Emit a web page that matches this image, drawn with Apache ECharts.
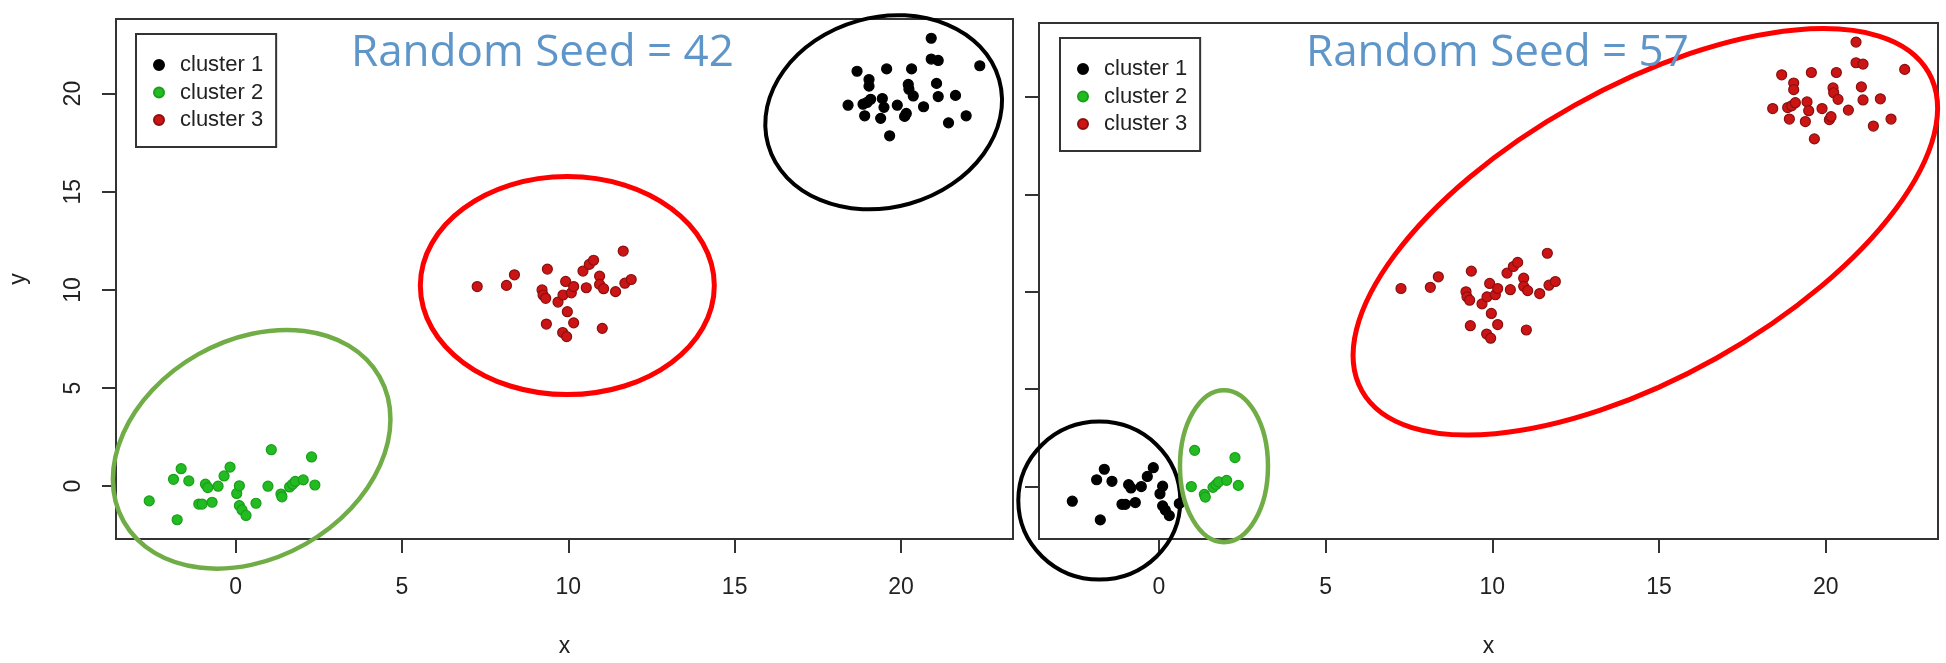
<!DOCTYPE html>
<html>
<head>
<meta charset="utf-8">
<title>k-means: random seed 42 vs 57</title>
<script src="https://cdn.jsdelivr.net/npm/echarts@6.0.0/dist/echarts.min.js"></script>
<style>
html, body { margin: 0; padding: 0; background: #fff; }
#main { width: 1946px; height: 663px; }
</style>
</head>
<body>
<div id="main"></div>
<script>
// same points in both plots, only the labels change between the two runs
// lower-left blob, x below ~1
var groupA = [
    [-2.60, -0.75], [-1.87, 0.35], [-1.64, 0.89], [-1.41, 0.27], [-1.76, -1.71],
    [-1.11, -0.91], [-1.01, -0.91], [-0.91, 0.10], [-0.84, -0.07], [-0.71, -0.82],
    [-0.53, 0.00], [-0.35, 0.52], [-0.17, 0.97], [0.03, -0.37], [0.11, 0.02],
    [0.11, -0.99], [0.19, -1.21], [0.31, -1.49], [0.61, -0.87]
];
// lower-left blob, right hand part
var groupB = [
    [0.97, 0.00], [1.07, 1.86], [1.36, -0.40], [1.39, -0.54], [1.62, -0.04],
    [1.71, 0.10], [1.79, 0.24], [2.03, 0.32], [2.28, 1.49], [2.38, 0.06]
];
// middle blob
var groupC = [
    [7.26, 10.17], [8.14, 10.23], [8.38, 10.77], [9.37, 11.06], [9.21, 10.00],
    [9.24, 9.74], [9.32, 9.57], [9.34, 8.26], [9.69, 9.38], [9.84, 9.74],
    [9.92, 10.43], [9.97, 8.89], [10.09, 9.85], [10.16, 10.17], [9.83, 7.83],
    [9.95, 7.62], [10.16, 8.32], [10.44, 10.96], [10.54, 10.11], [10.63, 11.30],
    [10.76, 11.51], [10.94, 10.70], [10.94, 10.28], [11.06, 10.06], [11.02, 8.04],
    [11.42, 9.91], [11.65, 11.98], [11.70, 10.34], [11.89, 10.53]
];
// upper-right blob
var groupD = [
    [18.41, 19.41], [18.68, 21.14], [18.91, 18.87], [18.86, 19.46], [18.98, 19.55],
    [19.09, 19.71], [19.04, 20.72], [19.04, 20.38], [19.39, 18.74], [19.44, 19.75],
    [19.49, 19.30], [19.57, 21.26], [19.66, 17.85], [19.89, 19.41], [20.11, 18.84],
    [20.16, 18.99], [20.22, 20.47], [20.24, 20.22], [20.37, 19.88], [20.32, 21.26],
    [20.68, 19.33], [20.91, 22.82], [20.91, 21.76], [21.12, 21.69], [21.07, 20.52],
    [21.12, 19.85], [21.43, 18.51], [21.64, 19.91], [21.96, 18.87], [22.37, 21.42]
];

var clusterNames = ['cluster 1', 'cluster 2', 'cluster 3'];
var tickValues = [0, 5, 10, 15, 20];
var titles = ['Random Seed = 42', 'Random Seed = 57'];

// cluster membership per run
var seed42 = [groupD, groupA.concat(groupB), groupC];
var seed57 = [groupA, groupB, groupC.concat(groupD)];

// hand drawn rings, centre in data units, radii in px
var ringsLeft = [
    {at: [0.48, 1.88], rx: 147, ry: 109, tilt: 29.5, color: '#70ad47', width: 4.5},
    {at: [9.97, 10.22], rx: 147, ry: 109, tilt: 0, color: '#ff0000', width: 5},
    {at: [19.48, 19.05], rx: 120, ry: 95, tilt: 15.7, color: '#000000', width: 4}
];
var ringsRight = [
    {at: [-1.79, -0.72], rx: 81, ry: 79, tilt: 0, color: '#000000', width: 4},
    {at: [1.95, 1.05], rx: 44, ry: 76, tilt: 0, color: '#70ad47', width: 4.5},
    {at: [14.59, 13.08], rx: 325, ry: 145, tilt: 29.3, color: '#ff0000', width: 5}
];

var font = 'Liberation Sans';
var ink = '#222';
var colors = ['#000000', '#22bb22', '#cc1414'];
var borders = ['#000000', '#199f19', '#8a1010'];

// axis range like R: data range plus 4% each side
var all = groupA.concat(groupB, groupC, groupD);
var xs = all.map(function (p) { return p[0]; });
var ys = all.map(function (p) { return p[1]; });
var xMin = Math.min.apply(null, xs), xMax = Math.max.apply(null, xs);
var yMin = Math.min.apply(null, ys), yMax = Math.max.apply(null, ys);
var xPad = (xMax - xMin) * 0.04, yPad = (yMax - yMin) * 0.04;

var myChart = echarts.init(document.getElementById('main'));

function xAxisFor(i) {
    return {
        type: 'value', gridIndex: i, min: xMin - xPad, max: xMax + xPad,
        name: 'x', nameLocation: 'middle', nameGap: 96,
        nameTextStyle: {fontSize: 23, color: ink, fontFamily: font},
        axisLine: {show: false, onZero: false},
        axisTick: {show: true, length: 14, customValues: tickValues, lineStyle: {color: '#333', width: 2}},
        axisLabel: {margin: 37, fontSize: 23, color: ink, fontFamily: font, customValues: tickValues},
        splitLine: {show: false}
    };
}

function yAxisFor(i) {
    return {
        type: 'value', gridIndex: i, min: yMin - yPad, max: yMax + yPad,
        name: i === 0 ? 'y' : '', nameLocation: 'middle', nameGap: 86, nameRotate: 90,
        nameTextStyle: {fontSize: 23, color: ink, fontFamily: font},
        axisLine: {show: false, onZero: false},
        axisTick: {show: true, length: 14, customValues: tickValues, lineStyle: {color: '#333', width: 2}},
        axisLabel: {show: i === 0, rotate: 90, margin: 31, fontSize: 23, color: ink, fontFamily: font, customValues: tickValues},
        splitLine: {show: false}
    };
}

function legendFor(left, top) {
    return {
        data: clusterNames, left: left, top: top, orient: 'vertical',
        icon: 'circle', itemWidth: 10, itemHeight: 10, itemGap: 5.5,
        padding: [20, 13, 16, 17], selectedMode: false,
        borderColor: '#333', borderWidth: 2, backgroundColor: '#fff',
        textStyle: {fontSize: 22, lineHeight: 22, color: ink, fontFamily: font, padding: [0, 0, 0, 11]}
    };
}

function scatterFor(groups, i) {
    return groups.map(function (pts, k) {
        return {
            type: 'scatter', name: clusterNames[k], xAxisIndex: i, yAxisIndex: i,
            data: pts, symbol: 'circle', symbolSize: 10, z: 3,
            itemStyle: {color: colors[k], borderColor: borders[k], borderWidth: 1.2, opacity: 1}
        };
    });
}

function ringSeries(list, i) {
    return {
        type: 'custom', xAxisIndex: i, yAxisIndex: i, clip: false, silent: true, z: 5,
        data: list.map(function (r) { return r.at; }),
        renderItem: function (params, api) {
            var r = list[params.dataIndex];
            var c = api.coord([api.value(0), api.value(1)]);
            return {
                type: 'ellipse', x: c[0], y: c[1], rotation: r.tilt * Math.PI / 180,
                shape: {cx: 0, cy: 0, rx: r.rx, ry: r.ry},
                style: {fill: 'none', stroke: r.color, lineWidth: r.width}
            };
        }
    };
}

var titleStyle = {fontFamily: 'Open Sans', fontSize: 44, fontWeight: 'normal', color: '#5f96c9'};

var option = {
    animation: false,
    backgroundColor: '#fff',
    title: [
        {text: titles[0], left: 351, top: 31, padding: 0, textStyle: titleStyle},
        {text: titles[1], left: 1306, top: 31, padding: 0, textStyle: titleStyle}
    ],
    legend: [legendFor(136, 34), legendFor(1060, 38)],
    grid: [
        {left: 116, top: 19, width: 897, height: 527, show: true, borderColor: '#333', borderWidth: 2, backgroundColor: 'transparent'},
        {left: 1039, top: 23, width: 899, height: 523, show: true, borderColor: '#333', borderWidth: 2, backgroundColor: 'transparent'}
    ],
    xAxis: [xAxisFor(0), xAxisFor(1)],
    yAxis: [yAxisFor(0), yAxisFor(1)],
    series: scatterFor(seed42, 0).concat(scatterFor(seed57, 1), [ringSeries(ringsLeft, 0), ringSeries(ringsRight, 1)])
};

myChart.setOption(option);

window.onresize = function () {
    myChart.resize();
};
</script>
</body>
</html>
